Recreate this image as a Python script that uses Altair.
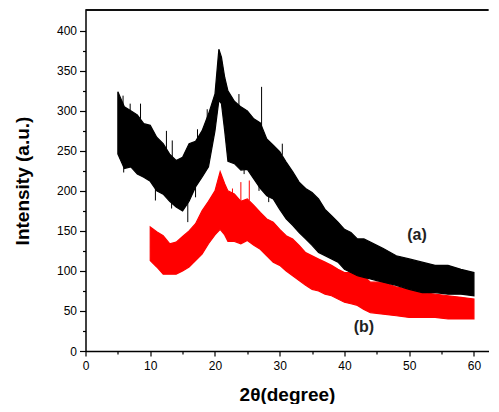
import altair as alt
import pandas as pd

# Sample (a): black pattern, envelope
a_x = [5, 6, 7, 8, 9, 10, 11, 12, 13, 14, 15, 16, 17, 18, 19, 20, 20.6, 21, 21.5,
       22, 23, 24, 25, 26, 27, 28, 29, 30, 31, 32, 33, 34, 35, 36, 37, 38, 39, 40,
       41, 42, 43, 44, 45, 46, 48, 50, 52, 54, 56, 58, 60]
a_hi = [324, 305, 300, 295, 284, 282, 267, 259, 246, 238, 242, 259, 262, 275, 296, 321,
        377, 367, 342,
        325, 312, 305, 300, 290, 285, 265, 257, 249, 236, 224, 211, 203, 198, 190, 177,
        169, 161, 152, 148, 140, 140, 136, 132, 128,
        119, 115, 111, 107, 107, 102, 98]
a_lo = [246, 228, 230, 221, 217, 212, 200, 196, 187, 180, 175, 187, 205, 217, 230, 275,
        313, 309, 275,
        237, 234, 226, 227, 215, 203, 194, 190, 177, 165, 157, 148, 140, 132, 123, 119,
        115, 111, 102, 98, 94, 92, 90, 88, 86,
        82, 77, 73, 73, 71, 71, 69]

# Sample (b): red pattern
b_x = [10, 11, 12, 13, 14, 15, 16, 17, 18, 19, 20, 20.8, 21.5,
       22, 23, 24, 25, 26, 27, 28, 29, 30, 31, 32, 33, 34, 35, 36, 37, 38, 39, 40,
       41, 42, 43, 44, 46, 48, 50, 52, 54, 56, 58, 60]
b_hi = [155, 149, 144, 134, 136, 143, 150, 159, 175, 187, 200, 224, 209,
        200, 196, 187, 190, 182, 173, 165, 161, 152, 144, 140, 132, 123, 119, 115, 111,
        107, 102, 98, 98, 94, 94,
        86, 86, 80, 77, 73, 71, 69, 67, 65]
b_lo = [113, 105, 96, 96, 96, 100, 105, 113, 121, 134, 145, 152, 145,
        137, 137, 134, 138, 132, 127, 119, 111, 107, 100, 94, 88, 82, 77, 75, 71,
        69, 65, 61, 59, 57, 52,
        48, 46, 44, 42, 42, 42, 40, 40, 40]

# Isolated noise spikes: position, band edge, spike tip
spk_series = ["a"] * 20 + ["b"] * 3
spk_x = [5.8, 6.9, 8.5, 12.5, 13.4, 17.3, 18.8, 23.7, 27.2, 30.4,
         5.9, 10.8, 13.3, 15.8, 17.0, 24.5, 26.8, 28.3, 33.2, 37.6,
         22.7, 24.0, 25.3]
spk_base = [300, 295, 290, 250, 242, 265, 290, 305, 280, 245,
            235, 205, 190, 185, 205, 230, 210, 195, 155, 125,
            195, 187, 188]
spk_tip = [319, 309, 309, 275, 263, 277, 302, 321, 330, 259,
           223, 188, 178, 161, 192, 221, 200, 186, 148, 118,
           203, 211, 213]

labels = ["(a)", "(b)"]
label_x = [51.2, 43.0]
label_y = [145, 30]

x_major = [0, 10, 20, 30, 40, 50, 60]
x_minor = [5, 15, 25, 35, 45, 55]
y_major = [0, 50, 100, 150, 200, 250, 300, 350, 400]
y_minor = [25, 75, 125, 175, 225, 275, 325, 375]

W, H = 403, 341
XMAX, YMAX = 62.25, 426

df_a = pd.DataFrame({"x": a_x, "lo": a_lo, "hi": a_hi})
df_b = pd.DataFrame({"x": b_x, "lo": b_lo, "hi": b_hi})
df_s = pd.DataFrame({"s": spk_series, "x": spk_x, "base": spk_base, "tip": spk_tip})
df_lab = pd.DataFrame({"t": labels, "x": label_x, "y": label_y})

xs = alt.Scale(domain=[0, XMAX], nice=False, zero=False)
ys = alt.Scale(domain=[0, YMAX], nice=False, zero=False)

x_axis = alt.Axis(values=x_major, title="2θ(degree)", titleFontSize=19,
                  titleFontWeight="bold", titlePadding=14, labelFontSize=12,
                  labelPadding=4, tickSize=5, grid=False, domainWidth=1.5,
                  tickWidth=1.2, labelFlush=False)
y_axis = alt.Axis(values=y_major, title="Intensity (a.u.)", titleFontSize=19,
                  titleFontWeight="bold", titlePadding=24, labelFontSize=12,
                  labelPadding=3, tickSize=6, grid=False, domainWidth=1.5,
                  tickWidth=1.2)

area_a = alt.Chart(df_a).mark_area(color="#000000", stroke="#000000",
                                   strokeWidth=1.2, opacity=1).encode(
    x=alt.X("x:Q", scale=xs, axis=x_axis),
    y=alt.Y("lo:Q", scale=ys, axis=y_axis),
    y2="hi:Q",
)
area_b = alt.Chart(df_b).mark_area(color="#FF0000", stroke="#FF0000",
                                   strokeWidth=1.2, opacity=1).encode(
    x=alt.X("x:Q", scale=xs, axis=x_axis),
    y=alt.Y("lo:Q", scale=ys, axis=y_axis),
    y2="hi:Q",
)
spikes = alt.Chart(df_s).mark_rule(strokeWidth=1).encode(
    x=alt.X("x:Q", scale=xs, axis=x_axis),
    y=alt.Y("base:Q", scale=ys, axis=y_axis),
    y2="tip:Q",
    color=alt.Color("s:N", scale=alt.Scale(domain=["a", "b"],
                                           range=["#000000", "#FF0000"]),
                    legend=None),
)
text = alt.Chart(df_lab).mark_text(fontSize=16, fontWeight="bold",
                                   font="Liberation Sans", color="#222222").encode(
    x=alt.X("x:Q", scale=xs, axis=x_axis),
    y=alt.Y("y:Q", scale=ys, axis=y_axis),
    text="t:N",
)
top = alt.Chart(df_lab).mark_rule(color="#000000", strokeWidth=1.5).encode(
    x=alt.value(0), x2=alt.value(W), y=alt.value(0)
)

inner = alt.layer(area_b, area_a, spikes, text, top)

minor = alt.Chart(pd.DataFrame({"x": x_minor[:1], "y": y_minor[:1]})).mark_point(
    opacity=0).encode(
    x=alt.X("x:Q", scale=xs,
            axis=alt.Axis(values=x_minor, orient="bottom", labels=False, title=None,
                          domain=False, tickSize=3, tickWidth=1.2, grid=False)),
    y=alt.Y("y:Q", scale=ys,
            axis=alt.Axis(values=y_minor, orient="left", labels=False, title=None,
                          domain=False, tickSize=3, tickWidth=1.2, grid=False)),
)

chart = alt.layer(inner, minor).resolve_axis(x="independent", y="independent").properties(
    width=W, height=H,
    padding={"left": 4.5, "top": 1, "right": 0, "bottom": 0},
).configure_view(stroke=None).configure_axis(
    domainColor="#000000", tickColor="#000000", labelColor="#000000",
    titleColor="#000000", labelFont="Liberation Sans", titleFont="Liberation Sans",
)

chart.save("out.html", embed_options={"renderer": "svg", "actions": False})
